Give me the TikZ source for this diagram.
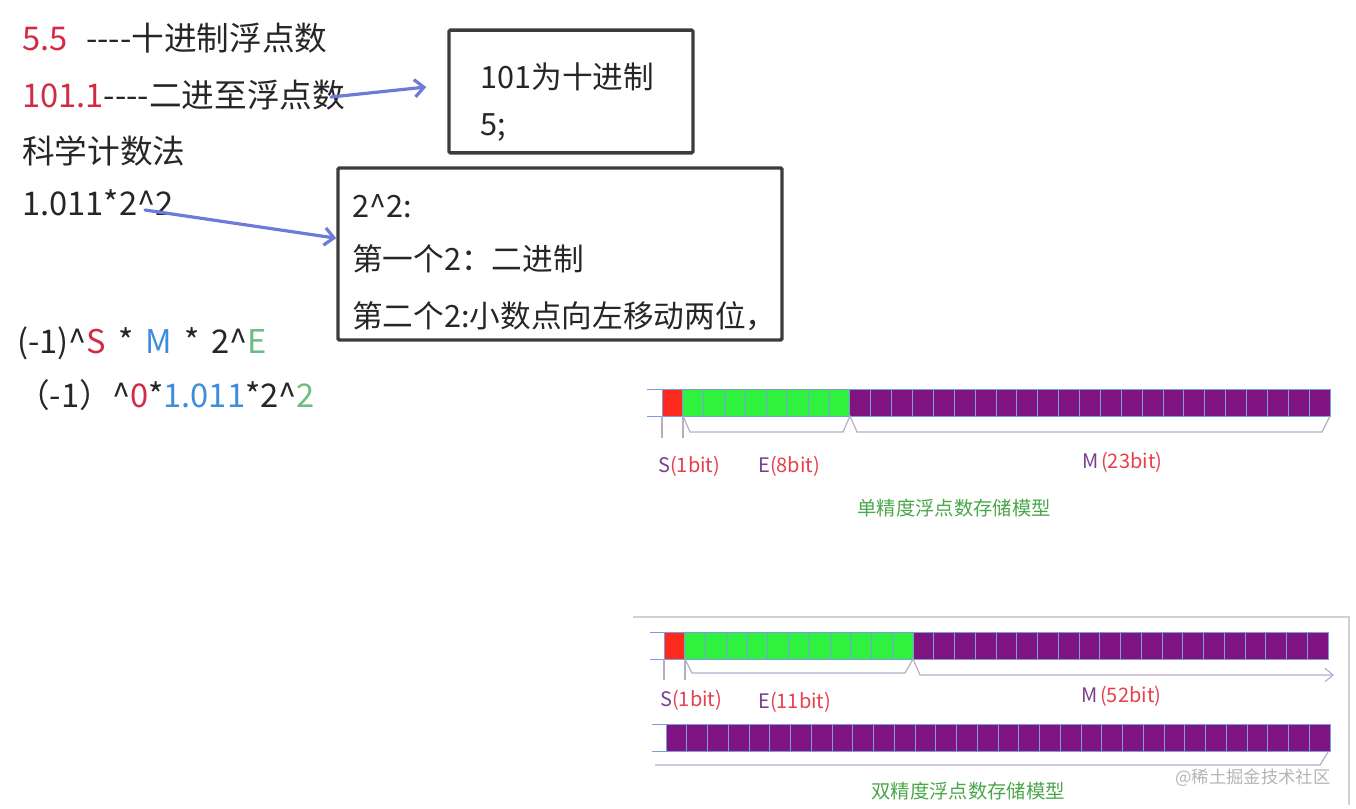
\documentclass[tikz,border=0pt]{standalone}
\usepackage{fontspec}
\usepackage{xcolor}
\usepackage{tikz}
\usetikzlibrary{positioning,arrows.meta,calc}
\newfontfamily\cjk{Noto Sans CJK SC}
\newcommand\fgap{\hspace{9pt}}
\definecolor{numred}{HTML}{D42B45}
\definecolor{numblue}{HTML}{3B8EDC}
\definecolor{numgreen}{HTML}{6DBE7E}
\definecolor{inkgray}{HTML}{3C3C3C}
\definecolor{arrowblue}{HTML}{6C7BD6}
\definecolor{bitred}{HTML}{FF2A1E}
\definecolor{bitgreen}{HTML}{2EF23E}
\definecolor{bitpurple}{HTML}{7F1480}
\definecolor{bitline}{HTML}{7C9BE0}
\definecolor{bracegray}{HTML}{B8ACC8}
\definecolor{lblpurple}{HTML}{7A3F8E}
\definecolor{lblred}{HTML}{E6404C}
\definecolor{titlegreen}{HTML}{4AA64A}
\definecolor{framegray}{HTML}{C9D6CB}
\definecolor{markgray}{HTML}{B4B4B4}

\begin{document}
\begin{tikzpicture}[
    x=0.75pt, y=-0.75pt,
    txt/.style={anchor=base west, inner sep=0pt, font=\cjk\fontsize{24.5}{28}\selectfont, text=black!85},
    boxtxt/.style={txt, font=\cjk\fontsize{23}{28}\selectfont},
    note/.style={draw=inkgray, line width=2.6pt, rounded corners=1pt},
    arr/.style={-{Straight Barb[length=7pt,width=13pt]}, line width=2.4pt, draw=arrowblue, line cap=round},
    bitlbl/.style={anchor=base west, inner sep=0pt, font=\cjk\fontsize{15}{18}\selectfont},
    title/.style={anchor=base, inner sep=0pt, font=\cjk\fontsize{14.5}{17}\selectfont, text=titlegreen},
    brace/.style={draw=bracegray, line width=0.9pt},
    cell/.style={draw=bitline, line width=0.6pt}
]
    \useasboundingbox (0,0) rectangle (1356,808);

    % Left column text
    \node[txt] (dec) at (22,50) {\textcolor{numred}{5.5}\hspace{14pt}----十进制浮点数};
    \node[txt] (bin) at (22,107) {\textcolor{numred}{101.1}----二进至浮点数};
    \node[txt] (sci) at (22,163) {科学计数法};
    \node[txt] (sciex) at (22,215) {1.011*2\textasciicircum2};
    \node[txt] (form) at (17,353) {(-1)\textasciicircum\textcolor{numred}{S}\fgap*\fgap\textcolor{numblue}{M}\fgap*\fgap2\textasciicircum\textcolor{numgreen}{E}};
    \node[txt] (formex) at (17,407) {（-1）\textasciicircum\textcolor{numred}{0}*\textcolor{numblue}{1.011}*2\textasciicircum\textcolor{numgreen}{2}};

    % Notes
    \node[note, minimum width=183pt, minimum height=92pt] (box1) at (571,91.5) {};
    \node[boxtxt] (b1a) at (480,88) {101为十进制};
    \node[boxtxt] (b1b) at (480,135) {5;};
    \node[note, minimum width=333pt, minimum height=129pt] (box2) at (560,254) {};
    \node[boxtxt] (b2a) at (352,217) {2\textasciicircum2:};
    \node[boxtxt] (b2b) at (352,270) {第一个2：二进制};
    \node[boxtxt] (b2c) at (352,327) {第二个2:小数点向左移动两位，};

    % Arrows
    \coordinate (a1) at (331,97);
    \coordinate (a2) at (145,210);
    \draw[arr] (a1) -- ([shift={(-21,-4.5)}]box1.west);
    \draw[arr] (a2) -- ($(box2.north west)!0.41!(box2.south west)$);

    % Single precision
    \draw[cell] (647,389) -- (1330,389) (647,416) -- (1330,416);
    \foreach \i in {0,...,31}{
        \pgfmathsetmacro\xa{662+20.875*\i}
        \ifnum\i=0 \def\cellcol{bitred}\else\ifnum\i<9 \def\cellcol{bitgreen}\else\def\cellcol{bitpurple}\fi\fi
        \filldraw[cell, fill=\cellcol] (\xa,389) rectangle ++(20.875,27);
    }
    \draw[brace] (662,416) -- (662,438) (683,416) -- (683,438);
    \draw[brace] (683,416) -- (690,432) -- (843,432) -- (850,416) -- (857,432) -- (1322,432) -- (1330,416);
    \node[bitlbl] (s1) at (658,472) {\textcolor{lblpurple}{S}\textcolor{lblred}{(1bit)}};
    \node[bitlbl] (e1) at (758,472) {\textcolor{lblpurple}{E}\textcolor{lblred}{(8bit)}};
    \node[bitlbl] (m1) at (1082,468) {\textcolor{lblpurple}{M}\hspace{2pt}\textcolor{lblred}{(23bit)}};
    \node[title] (t1) at (954,515) {单精度浮点数存储模型};

    % Double precision
    \draw[draw=framegray, line width=0.8pt] (633,617) -- (1349,617) -- (1349,805);
    \draw[cell] (650,632) -- (1328,632) (650,659) -- (1328,659);
    \foreach \i in {0,...,31}{
        \pgfmathsetmacro\xa{664+20.75*\i}
        \ifnum\i=0 \def\cellcol{bitred}\else\ifnum\i<12 \def\cellcol{bitgreen}\else\def\cellcol{bitpurple}\fi\fi
        \filldraw[cell, fill=\cellcol] (\xa,632) rectangle ++(20.75,27);
    }
    \draw[brace] (664,659) -- (664,680) (685,659) -- (685,680);
    \draw[brace] (685,659) -- (692,673) -- (905,673) -- (913,659);
    \draw[brace, -{Straight Barb[length=6pt,width=10pt]}] (913,659) -- (920,675) -- (1334,675);
    \node[bitlbl] (s2) at (660,706) {\textcolor{lblpurple}{S}\textcolor{lblred}{(1bit)}};
    \node[bitlbl] (e2) at (758,708) {\textcolor{lblpurple}{E}\textcolor{lblred}{(11bit)}};
    \node[bitlbl] (m2) at (1081,702) {\textcolor{lblpurple}{M}\hspace{2pt}\textcolor{lblred}{(52bit)}};

    \draw[cell] (652,724) -- (1330,724) (652,751) -- (1330,751);
    \foreach \i in {0,...,31}{
        \pgfmathsetmacro\xa{666+20.75*\i}
        \filldraw[cell, fill=bitpurple] (\xa,724) rectangle ++(20.75,27);
    }
    \draw[brace] (655,765) -- (1320,765) -- (1328,752);
    \node[title] (t2) at (968,798) {双精度浮点数存储模型};
    \node[anchor=base west, inner sep=0pt, font=\cjk\fontsize{13}{15}\selectfont, text=markgray] (mark) at (1175,783) {@稀土掘金技术社区};
\end{tikzpicture}
\end{document}
